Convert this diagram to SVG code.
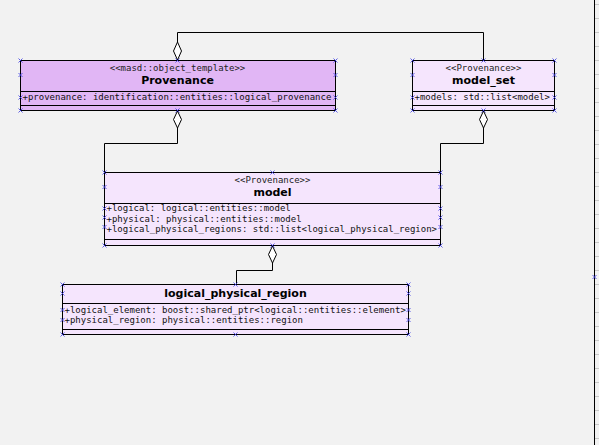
<svg xmlns="http://www.w3.org/2000/svg" xmlns:xlink="http://www.w3.org/1999/xlink" width="599" height="445" viewBox="0 0 599 445">
<style>
.box{stroke:#000;stroke-width:1}
.p1{fill:#e1b6f5}
.p2{fill:#f5e5fd}
.sep{stroke:#000;stroke-width:1;fill:none}
.mono{font-family:"DejaVu Sans Mono",monospace;font-size:9px;fill:#111}
.st{font-family:"DejaVu Sans Mono",monospace;font-size:9px;fill:#222;text-anchor:middle}
.nm{font-family:"DejaVu Sans",sans-serif;font-size:11px;font-weight:bold;fill:#000;text-anchor:middle}
.conn{stroke:#000;stroke-width:1;fill:none}
.dia{stroke:#000;stroke-width:1;fill:#fff}
.cp{stroke:#3a3ae0;stroke-width:0.8;fill:none}
.tick{stroke:#c8c8c8;stroke-width:1}
</style>
<defs>
<path id="x" class="cp" d="M-2,-2L2,2M-2,2L2,-2"/>
</defs>
<rect width="599" height="445" fill="#f2f2f2"/>
<g id="ruler">
<line x1="594.5" y1="0" x2="594.5" y2="445" stroke="#000" stroke-width="1"/>
<g class="tick">
<line x1="595" y1="4.5" x2="599" y2="4.5"/><line x1="595" y1="18.5" x2="599" y2="18.5"/><line x1="595" y1="32.5" x2="599" y2="32.5"/><line x1="595" y1="46.5" x2="599" y2="46.5"/><line x1="595" y1="60.5" x2="599" y2="60.5"/><line x1="595" y1="74.5" x2="599" y2="74.5"/><line x1="595" y1="88.5" x2="599" y2="88.5"/><line x1="595" y1="102.5" x2="599" y2="102.5"/><line x1="595" y1="116.5" x2="599" y2="116.5"/><line x1="595" y1="130.5" x2="599" y2="130.5"/><line x1="595" y1="144.5" x2="599" y2="144.5"/><line x1="595" y1="158.5" x2="599" y2="158.5"/><line x1="595" y1="172.5" x2="599" y2="172.5"/><line x1="595" y1="186.5" x2="599" y2="186.5"/><line x1="595" y1="200.5" x2="599" y2="200.5"/><line x1="595" y1="214.5" x2="599" y2="214.5"/><line x1="595" y1="228.5" x2="599" y2="228.5"/><line x1="595" y1="242.5" x2="599" y2="242.5"/><line x1="595" y1="256.5" x2="599" y2="256.5"/><line x1="595" y1="270.5" x2="599" y2="270.5"/><line x1="595" y1="284.5" x2="599" y2="284.5"/><line x1="595" y1="298.5" x2="599" y2="298.5"/><line x1="595" y1="312.5" x2="599" y2="312.5"/><line x1="595" y1="326.5" x2="599" y2="326.5"/><line x1="595" y1="340.5" x2="599" y2="340.5"/><line x1="595" y1="354.5" x2="599" y2="354.5"/><line x1="595" y1="368.5" x2="599" y2="368.5"/><line x1="595" y1="382.5" x2="599" y2="382.5"/><line x1="595" y1="396.5" x2="599" y2="396.5"/><line x1="595" y1="410.5" x2="599" y2="410.5"/><line x1="595" y1="424.5" x2="599" y2="424.5"/><line x1="595" y1="438.5" x2="599" y2="438.5"/>
</g>
<use href="#x" x="594.5" y="277"/>
</g>
<g id="connectors">
<polyline class="conn" points="177.5,42 177.5,32.5 483.5,32.5 483.5,60.5"/>
<polygon class="dia" points="177.5,42 181.5,51 177.5,60 173.5,51"/>
<polyline class="conn" points="177.5,128 177.5,143.5 104.5,143.5 104.5,172.5"/>
<polygon class="dia" points="177.5,111 181.5,119.5 177.5,128 173.5,119.5"/>
<polyline class="conn" points="483.5,128 483.5,143.5 440.5,143.5 440.5,172.5"/>
<polygon class="dia" points="483.5,111 487.5,119.5 483.5,128 479.5,119.5"/>
<polyline class="conn" points="272.5,263 272.5,270.5 236.5,270.5 236.5,284.5"/>
<polygon class="dia" points="272.5,246 276.5,254.5 272.5,263 268.5,254.5"/>
</g>
<g id="Provenance">
<rect class="box p1" x="20.5" y="60.5" width="315" height="50"/>
<path class="sep" d="M20.5,91.5H335.5M20.5,105.5H335.5"/>
<text class="st" x="177.5" y="70.7">&lt;&lt;masd::object_template&gt;&gt;</text>
<text class="nm" x="177.5" y="84">Provenance</text>
<text class="mono" x="22.5" y="100">+provenance: identification::entities::logical_provenance</text>
<use href="#x" x="20.5" y="60.5"/><use href="#x" x="335.5" y="60.5"/><use href="#x" x="20.5" y="110.5"/><use href="#x" x="335.5" y="110.5"/>
<use href="#x" x="177.5" y="60.5"/><use href="#x" x="177.5" y="110.5"/>
<use href="#x" x="20.5" y="75"/><use href="#x" x="335.5" y="75"/><use href="#x" x="20.5" y="97.5"/><use href="#x" x="335.5" y="97.5"/>
</g>
<g id="model_set">
<rect class="box p2" x="412.5" y="60.5" width="142" height="50"/>
<path class="sep" d="M412.5,91.5H554.5M412.5,105.5H554.5"/>
<text class="st" x="483.5" y="70.7">&lt;&lt;Provenance&gt;&gt;</text>
<text class="nm" x="483.5" y="84">model_set</text>
<text class="mono" x="414.5" y="100">+models: std::list&lt;model&gt;</text>
<use href="#x" x="412.5" y="60.5"/><use href="#x" x="554.5" y="60.5"/><use href="#x" x="412.5" y="110.5"/><use href="#x" x="554.5" y="110.5"/>
<use href="#x" x="483.5" y="60.5"/><use href="#x" x="483.5" y="110.5"/>
<use href="#x" x="412.5" y="75"/><use href="#x" x="554.5" y="75"/><use href="#x" x="412.5" y="97.5"/><use href="#x" x="554.5" y="97.5"/>
</g>
<g id="model">
<rect class="box p2" x="104.5" y="172.5" width="336" height="73"/>
<path class="sep" d="M104.5,203.5H440.5M104.5,239.5H440.5"/>
<text class="st" x="272.5" y="182.7">&lt;&lt;Provenance&gt;&gt;</text>
<text class="nm" x="272.5" y="195.7">model</text>
<text class="mono" x="106.5" y="211">+logical: logical::entities::model</text>
<text class="mono" x="106.5" y="221.7">+physical: physical::entities::model</text>
<text class="mono" x="106.5" y="232.3">+logical_physical_regions: std::list&lt;logical_physical_region&gt;</text>
<use href="#x" x="104.5" y="172.5"/><use href="#x" x="440.5" y="172.5"/><use href="#x" x="104.5" y="245.5"/><use href="#x" x="440.5" y="245.5"/>
<use href="#x" x="272.5" y="172.5"/><use href="#x" x="272.5" y="245.5"/>
<use href="#x" x="104.5" y="187"/><use href="#x" x="440.5" y="187"/>
<use href="#x" x="104.5" y="208.5"/><use href="#x" x="440.5" y="208.5"/>
<use href="#x" x="104.5" y="217.5"/><use href="#x" x="440.5" y="217.5"/>
<use href="#x" x="104.5" y="227"/><use href="#x" x="440.5" y="227"/>
</g>
<g id="logical_physical_region">
<rect class="box p2" x="62.5" y="284.5" width="346" height="50"/>
<path class="sep" d="M62.5,303.5H408.5M62.5,329.5H408.5"/>
<text class="nm" x="235.5" y="296.7">logical_physical_region</text>
<text class="mono" x="64.5" y="312.7">+logical_element: boost::shared_ptr&lt;logical::entities::element&gt;</text>
<text class="mono" x="64.5" y="323.3">+physical_region: physical::entities::region</text>
<use href="#x" x="62.5" y="284.5"/><use href="#x" x="408.5" y="284.5"/><use href="#x" x="62.5" y="334.5"/><use href="#x" x="408.5" y="334.5"/>
<use href="#x" x="235.5" y="284.5"/><use href="#x" x="235.5" y="334.5"/>
<use href="#x" x="62.5" y="293.5"/><use href="#x" x="408.5" y="293.5"/>
<use href="#x" x="62.5" y="310"/><use href="#x" x="408.5" y="310"/>
<use href="#x" x="62.5" y="320"/><use href="#x" x="408.5" y="320"/>
</g>
</svg>
